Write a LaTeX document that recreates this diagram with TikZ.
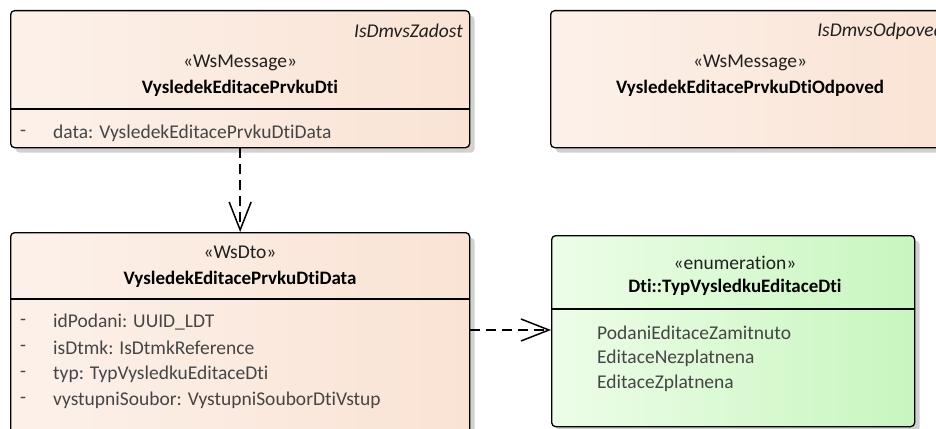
\documentclass[tikz,border=0pt]{standalone}
\usepackage{fontspec}
\setmainfont{Carlito}[Ligatures={NoCommon,NoContextual}]
\usetikzlibrary{arrows.meta,shadows}
\definecolor{peachL}{HTML}{FCF1EA}
\definecolor{peachR}{HTML}{FAE3D4}
\definecolor{greenL}{HTML}{EDFDE8}
\definecolor{greenR}{HTML}{C8F6BF}
\definecolor{attrgray}{HTML}{454545}
\definecolor{stgray}{HTML}{202020}
\tikzset{
  umlbox/.style={draw=black,line width=1.3pt,rounded corners=4pt,anchor=north west,inner sep=0pt,
    drop shadow={shadow xshift=5pt,shadow yshift=-5pt,fill=black!18,opacity=1}},
  peachfill/.style={left color=peachL,right color=peachR},
  greenfill/.style={left color=greenL,right color=greenR},
  txt/.style={inner sep=0pt,font=\fontsize{19.5}{23}\selectfont},
  stereo/.style={txt,text=stgray},
  cname/.style={txt,font=\fontsize{19}{23}\selectfont\bfseries},
  pkg/.style={txt,font=\fontsize{19.5}{23}\selectfont\itshape,anchor=east,text=stgray},
  attr/.style={txt,anchor=west,text=attrgray},
  sepline/.style={line width=1.3pt},
  dep/.style={line width=1.5pt,dash pattern=on 10pt off 6pt,-{Straight Barb[length=28pt,width=22pt,line width=1.5pt]}}
}
\begin{document}
\begin{tikzpicture}[x=1pt,y=-1pt]
\useasboundingbox (0,0) rectangle (936,428);
\clip (0,0) rectangle (936,428);
% boxes
\node[umlbox,peachfill,minimum width=459pt,minimum height=137pt] (b1) at (10,10) {};
\node[umlbox,peachfill,minimum width=400pt,minimum height=137pt] (b2) at (550,10) {};
\node[umlbox,peachfill,minimum width=459pt,minimum height=220pt] (b3) at (10,232) {};
\node[umlbox,greenfill,minimum width=363pt,minimum height=191pt] (b4) at (551,235) {};
% box 1
\node[pkg] (b1pkg) at (463,31) {IsDmvsZadost};
\node[stereo] (b1st) at (240,63) {«WsMessage»};
\node[cname] (b1nm) at (240,88) {VysledekEditacePrvkuDti};
\coordinate (b1s) at (10,109);
\draw[sepline] (b1s) -- (b1s -| b1.east);
\node[attr] (b1d1) at (20,133) {-};
\node[attr] (b1a1) at (53,133) {data: VysledekEditacePrvkuDtiData};
% box 2
\node[pkg] (b2pkg) at (944,31) {IsDmvsOdpoved};
\node[stereo] (b2st) at (750,63) {«WsMessage»};
\node[cname] (b2nm) at (750,88) {VysledekEditacePrvkuDtiOdpoved};
% box 3
\node[stereo] (b3st) at (240,252) {«WsDto»};
\node[cname] (b3nm) at (240,279) {VysledekEditacePrvkuDtiData};
\coordinate (b3s) at (10,299);
\draw[sepline] (b3s) -- (b3s -| b3.east);
\node[attr] (b3d1) at (20,322) {-};
\node[attr] (b3a1) at (53,322) {idPodani: UUID\_LDT};
\node[attr] (b3d2) at (20,348) {-};
\node[attr] (b3a2) at (53,348) {isDtmk: IsDtmkReference};
\node[attr] (b3d3) at (20,374) {-};
\node[attr] (b3a3) at (53,374) {typ: TypVysledkuEditaceDti};
\node[attr] (b3d4) at (20,400) {-};
\node[attr] (b3a4) at (53,400) {vystupniSoubor: VystupniSouborDtiVstup};
% box 4
\node[stereo] (b4st) at (735,263) {«enumeration»};
\node[cname] (b4nm) at (735,287) {Dti::TypVysledkuEditaceDti};
\coordinate (b4s) at (551,309);
\draw[sepline] (b4s) -- (b4s -| b4.east);
\node[attr] (b4a1) at (597,333) {PodaniEditaceZamitnuto};
\node[attr] (b4a2) at (597,358) {EditaceNezplatnena};
\node[attr] (b4a3) at (597,383) {EditaceZplatnena};
% connectors
\draw[dep] (b1.south) -- (b3.north);
\coordinate (arow) at (0,330);
\draw[dep] (b3.east |- arow) -- (b4.west |- arow);
\end{tikzpicture}
\end{document}
